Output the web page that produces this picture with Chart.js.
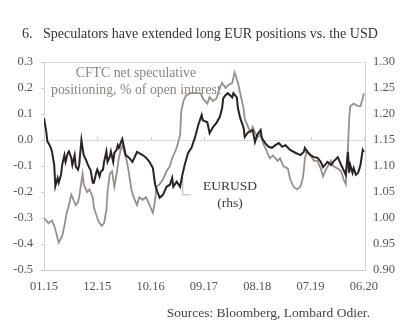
<!DOCTYPE html>
<html>
<head>
<meta charset="utf-8">
<script src="https://cdn.jsdelivr.net/npm/chart.js@4/dist/chart.umd.min.js"></script>
<style>
  body { margin: 0; background: #fff; }
  #wrap { position: relative; width: 418px; height: 327px; overflow: hidden; font-family: "Liberation Serif", "DejaVu Serif", serif; }
  #chart { position: absolute; left: 0; top: 0; }
  .title { position: absolute; left: 22px; top: 26px; font-size: 14px; color: #333; white-space: nowrap; }
  .title .num { display: inline-block; width: 21px; }
  .source { position: absolute; right: 48px; top: 305px; font-size: 13.5px; color: #444; white-space: nowrap; }
</style>
</head>
<body>
<div id="wrap">
  <canvas id="chart" width="418" height="327"></canvas>
  <div class="title"><span class="num">6.</span>Speculators have extended long EUR positions vs. the USD</div>
  <div class="source">Sources: Bloomberg, Lombard Odier.</div>
</div>
<script>
// weekly index from the first week of Jan 2015; x labels every 47 weeks
const xTickWeeks = [0, 47, 94, 141, 188, 235, 282];
const xTickLabels = ["01.15", "12.15", "10.16", "09.17", "08.18", "07.19", "06.20"];

// EURUSD spot (right axis)
const eurWeeks = [0, 2, 3, 4, 6, 7, 9, 10, 12, 13, 15, 16, 18, 19, 21, 22, 24, 25, 27, 28,
  30, 31, 33, 34, 35, 37, 38, 40, 41, 43, 44, 46, 47, 49, 50, 52, 53, 55, 56, 58,
  59, 61, 62, 64, 65, 66, 68, 69, 72, 75, 78, 82, 87, 90, 93, 96, 98, 100, 102, 105,
  108, 111, 113, 114, 117, 120, 122, 124, 127, 130, 133, 136, 139, 140, 144, 146, 149, 152, 155, 157,
  158, 160, 162, 166, 167, 170, 171, 173, 176, 177, 180, 184, 186, 188, 191, 192, 195, 198, 201, 204,
  207, 210, 213, 217, 222, 226, 229, 230, 232, 235, 238, 241, 244, 246, 250, 253, 255, 259, 262, 264,
  266, 268, 269, 270, 272, 273, 275, 277, 279, 281, 282];
const eurusd = [1.192, 1.166, 1.147, 1.144, 1.135, 1.128, 1.102, 1.061, 1.077, 1.068, 1.083, 1.102, 1.121, 1.108, 1.125, 1.128, 1.116, 1.102, 1.121, 1.099,
  1.093, 1.102, 1.150, 1.135, 1.121, 1.112, 1.106, 1.096, 1.093, 1.068, 1.068, 1.087, 1.093, 1.080, 1.089, 1.093, 1.108, 1.128, 1.108, 1.118,
  1.128, 1.108, 1.125, 1.131, 1.140, 1.135, 1.147, 1.152, 1.121, 1.116, 1.108, 1.127, 1.121, 1.116, 1.108, 1.096, 1.064, 1.050, 1.039, 1.045,
  1.060, 1.064, 1.077, 1.060, 1.070, 1.060, 1.083, 1.102, 1.125, 1.135, 1.154, 1.179, 1.198, 1.188, 1.184, 1.163, 1.175, 1.183, 1.194, 1.211,
  1.230, 1.236, 1.240, 1.232, 1.240, 1.232, 1.211, 1.192, 1.173, 1.156, 1.165, 1.169, 1.146, 1.160, 1.169, 1.154, 1.144, 1.137, 1.135, 1.140,
  1.144, 1.137, 1.140, 1.131, 1.125, 1.121, 1.127, 1.135, 1.127, 1.121, 1.117, 1.116, 1.108, 1.098, 1.108, 1.102, 1.108, 1.117, 1.102, 1.093,
  1.083, 1.127, 1.087, 1.102, 1.087, 1.096, 1.083, 1.087, 1.102, 1.131, 1.127];

// CFTC net speculative positioning, share of open interest (left axis)
const cftcWeeks = [0, 2, 4, 7, 9, 11, 12, 13, 16, 18, 20, 22, 24, 26, 28, 30, 31, 33, 34, 35,
  38, 40, 43, 44, 47, 49, 51, 53, 55, 56, 58, 60, 62, 64, 66, 68, 69, 71, 73, 75,
  77, 79, 82, 84, 87, 90, 92, 94, 96, 98, 99, 102, 105, 108, 111, 113, 117, 120, 121, 123,
  125, 129, 131, 134, 137, 138, 140, 144, 146, 149, 152, 155, 157, 160, 162, 166, 167, 168, 171, 173,
  176, 177, 179, 182, 184, 188, 191, 193, 197, 199, 202, 206, 208, 211, 215, 217, 220, 223, 226, 228,
  229, 230, 232, 235, 238, 241, 244, 246, 249, 253, 255, 259, 262, 264, 266, 268, 269, 270, 273, 277,
  279, 281, 282];
const cftc = [-0.30, -0.31, -0.32, -0.31, -0.33, -0.36, -0.38, -0.395, -0.37, -0.33, -0.28, -0.25, -0.21, -0.23, -0.25, -0.24, -0.22, -0.16, -0.13, -0.17,
  -0.20, -0.19, -0.22, -0.26, -0.30, -0.32, -0.33, -0.32, -0.27, -0.20, -0.13, -0.12, -0.18, -0.13, -0.07, -0.03, -0.02, -0.05, -0.08, -0.13,
  -0.19, -0.22, -0.25, -0.22, -0.23, -0.22, -0.24, -0.26, -0.28, -0.23, -0.18, -0.17, -0.15, -0.12, -0.10, -0.07, -0.03, 0.02, 0.11, 0.15,
  0.17, 0.18, 0.18, 0.18, 0.18, 0.18, 0.16, 0.14, 0.165, 0.15, 0.16, 0.20, 0.22, 0.20, 0.21, 0.22, 0.24, 0.26, 0.22, 0.18,
  0.12, 0.08, 0.06, 0.03, 0.05, 0.01, 0.02, -0.01, -0.05, -0.07, -0.06, -0.08, -0.07, -0.10, -0.11, -0.15, -0.18, -0.19, -0.18, -0.15,
  -0.12, -0.07, -0.04, -0.06, -0.08, -0.08, -0.11, -0.14, -0.11, -0.08, -0.10, -0.11, -0.12, -0.15, -0.17, -0.03, 0.08, 0.13, 0.14, 0.13,
  0.13, 0.16, 0.18];

const FONT = "'Liberation Serif', 'DejaVu Serif', serif";
const DARK = "#2b2222";
const GREY = "#9a9089";
const AXIS = "#cfcfcf";

function pairs(xs, ys) {
  return xs.map((x, i) => ({ x: x, y: ys[i] }));
}

// in-plot labels, EURUSD leader line and the small x ticks on the zero line
const notes = {
  id: "notes",
  beforeDatasetsDraw(chart) {
    const { ctx, scales } = chart;
    const x = scales.x, y = scales.y;
    ctx.save();
    ctx.textAlign = "center";
    ctx.textBaseline = "middle";

    ctx.font = "13.8px " + FONT;
    ctx.fillStyle = "#8e847d";
    ctx.fillText("CFTC net speculative", x.getPixelForValue(81), y.getPixelForValue(0.257));
    ctx.fillText("positioning, % of open interest", x.getPixelForValue(81), y.getPixelForValue(0.192));

    ctx.font = "13.5px " + FONT;
    ctx.fillStyle = "#3d3737";
    ctx.fillText("EURUSD", x.getPixelForValue(164), y.getPixelForValue(-0.18));
    ctx.fillText("(rhs)", x.getPixelForValue(164), y.getPixelForValue(-0.245));

    ctx.strokeStyle = "#b5aea8";
    ctx.lineWidth = 1;
    ctx.beginPath();
    ctx.moveTo(x.getPixelForValue(122.3), y.getPixelForValue(-0.142));
    ctx.lineTo(x.getPixelForValue(122.3), y.getPixelForValue(-0.211));
    ctx.lineTo(x.getPixelForValue(129.5), y.getPixelForValue(-0.211));
    ctx.stroke();

    ctx.strokeStyle = AXIS;
    const zero = y.getPixelForValue(0);
    xTickWeeks.forEach(w => {
      const px = Math.round(x.getPixelForValue(w)) + 0.5;
      ctx.beginPath();
      ctx.moveTo(px, zero);
      ctx.lineTo(px, zero - 3);
      ctx.stroke();
    });
    ctx.restore();
  }
};

new Chart(document.getElementById("chart"), {
  type: "line",
  data: {
    datasets: [
      {
        label: "EURUSD",
        data: pairs(eurWeeks, eurusd),
        yAxisID: "y2",
        borderColor: DARK,
        borderWidth: 2,
        pointRadius: 0,
        tension: 0
      },
      {
        label: "CFTC",
        data: pairs(cftcWeeks, cftc),
        yAxisID: "y",
        borderColor: GREY,
        borderWidth: 1.8,
        pointRadius: 0,
        tension: 0
      }
    ]
  },
  options: {
    responsive: false,
    animation: false,
    layout: { padding: { top: 62, left: 0, right: 0, bottom: 0 } },
    plugins: { legend: { display: false }, tooltip: { enabled: false } },
    scales: {
      x: {
        type: "linear",
        min: 0,
        max: 283,
        afterFit(scale) { scale.height = 57; },
        afterBuildTicks(scale) { scale.ticks = xTickWeeks.map(v => ({ value: v })); },
        ticks: {
          autoSkip: false,
          maxRotation: 0,
          padding: 9,
          color: "#555",
          font: { family: FONT, size: 12.5 },
          callback: (v) => xTickLabels[xTickWeeks.indexOf(v)]
        },
        grid: { display: false, drawTicks: false },
        border: { color: AXIS }
      },
      y: {
        position: "left",
        min: -0.5,
        max: 0.3,
        afterFit(scale) { scale.width = 44; },
        ticks: {
          stepSize: 0.1,
          padding: 8,
          color: "#555",
          font: { family: FONT, size: 12.5 },
          callback: (v) => v.toFixed(1)
        },
        grid: {
          color: (c) => Math.abs(c.tick.value) < 1e-9 || c.tick.value > 0.29 ? "#dcdcdc" : "rgba(0,0,0,0)",
          tickColor: AXIS,
          tickLength: 3
        },
        border: { color: AXIS }
      },
      y2: {
        position: "right",
        min: 0.9,
        max: 1.3,
        afterFit(scale) { scale.width = 53; },
        ticks: {
          stepSize: 0.05,
          padding: 8,
          color: "#555",
          font: { family: FONT, size: 12.5 },
          callback: (v) => v.toFixed(2)
        },
        grid: { display: false, drawTicks: false },
        border: { color: AXIS }
      }
    }
  },
  plugins: [notes]
});
</script>
</body>
</html>
